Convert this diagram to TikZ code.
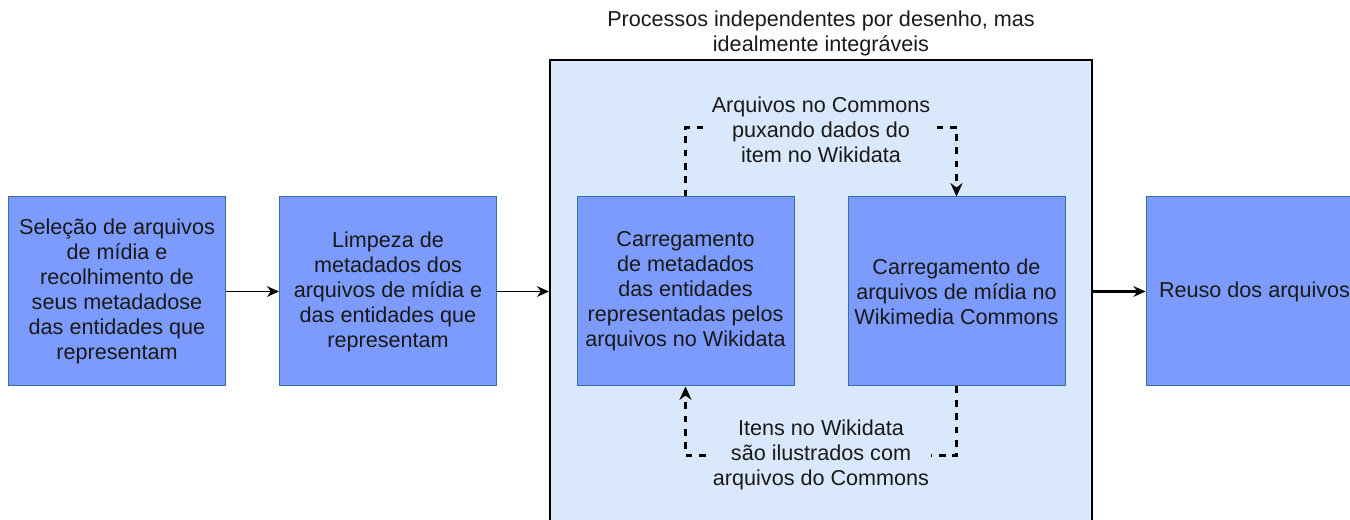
\documentclass[tikz,border=0pt]{standalone}
\usepackage{fontspec}
\setmainfont{Liberation Sans}
\usetikzlibrary{positioning,arrows.meta}

\definecolor{caixa}{RGB}{124,155,252}
\definecolor{borda}{RGB}{52,112,160}
\definecolor{fundo}{RGB}{218,232,252}
\definecolor{texto}{RGB}{25,25,25}

\tikzset{
	etapa/.style={draw=borda, line width=0.75pt, fill=caixa, text=texto,
		minimum width=162.75pt, minimum height=141.75pt, align=center,
		font=\fontsize{16.2}{18.75}\selectfont},
	rotulo/.style={text=texto, align=center, inner sep=1.5pt,
		font=\fontsize{16.2}{18.75}\selectfont},
	seta/.style={-{Stealth[length=9pt,width=8pt]}, line width=1pt},
	tracejado/.style={line width=1.8pt, dash pattern=on 5pt off 5pt}
}

\begin{document}
\begin{tikzpicture}[x=0.75pt, y=-0.75pt]
	
	\useasboundingbox (0,0) rectangle (1350,520);
	\clip (0,0) rectangle (1350,520);
	
	\node[draw, line width=1.5pt, fill=fundo, minimum width=406.5pt, minimum height=360pt] (grupo) at (821,300) {};
	
	\node[rotulo] (titulo) at (821,33) {Processos independentes por desenho, mas\\idealmente integráveis};
	
	\node[etapa] (sel) at (117,291.5) {Seleção de arquivos\\de mídia e\\recolhimento de\\seus metadadose\\das entidades que\\representam};
	
	\node[etapa] (limp) at (388,291.5) {Limpeza de\\metadados dos\\arquivos de mídia e\\das entidades que\\representam};
	
	\node[etapa] (carreg) at (685.5,291.5) {Carregamento\\de metadados\\das entidades\\representadas pelos\\arquivos no Wikidata};
	
	\node[etapa] (upload) at (956.5,291.5) {Carregamento de\\arquivos de mídia no\\Wikimedia Commons};
	
	\node[etapa] (reuso) at (1254.5,291.5) {Reuso dos arquivos};
	
	\draw[seta] (sel) -- (limp);
	\draw[seta] (limp.east) -- (limp.east -| grupo.west);
	\draw[seta, line width=1.8pt] (reuso.west -| grupo.east) -- (reuso.west);
	
	\draw[tracejado, -{Stealth[length=10pt,width=9pt]}] (carreg.north) -- ++(0,-69) -| (upload.north);
	\draw[tracejado, -{Stealth[length=10pt,width=9pt]}] (upload.south) -- ++(0,69) -| (carreg.south);
	
	\node[rotulo, fill=fundo] (puxa) at (821,130) {Arquivos no Commons\\puxando dados do\\item no Wikidata};
	
	\node[rotulo, fill=fundo] (ilustra) at (821,455) {Itens no Wikidata\\são ilustrados com\\arquivos do Commons};
	
\end{tikzpicture}
\end{document}
